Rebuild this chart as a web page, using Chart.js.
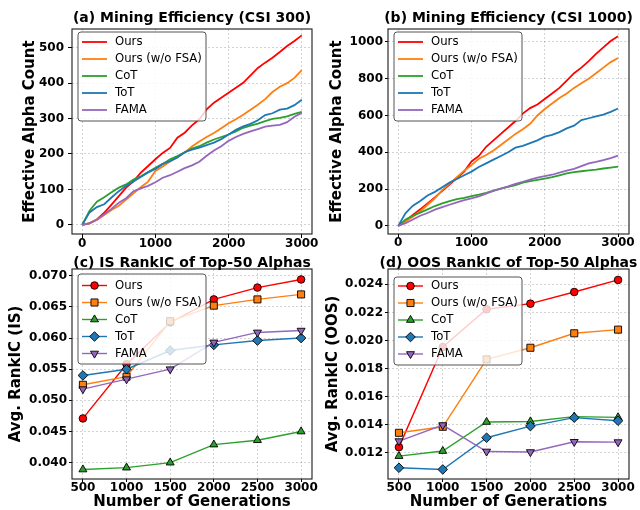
<!DOCTYPE html>
<html>
<head>
<meta charset="utf-8">
<script src="https://cdn.jsdelivr.net/npm/chart.js@4.4.1/dist/chart.umd.min.js"></script>
<style>
  body { margin: 0; background: #fff; width: 640px; height: 510px; position: relative; overflow: hidden; }
  canvas { position: absolute; }
</style>
</head>
<body>
<canvas id="chartA"></canvas>
<canvas id="chartB"></canvas>
<canvas id="chartC"></canvas>
<canvas id="chartD"></canvas>
<script>
const methods = ['Ours', 'Ours (w/o FSA)', 'CoT', 'ToT', 'FAMA'];
const colors = ['#ff0000', '#ff7f0e', '#2ca02c', '#1f77b4', '#9467bd'];
const markers = ['circle', 'rect', 'triangle', 'rectRot', 'triangle'];
const markerTurn = [0, 0, 0, 0, 180];
const markerSize = [3.8, 5, 4.6, 4.8, 4.6];

// (a) / (b): cumulative effective alphas vs generation
const generations = [0, 100, 200, 300, 400, 500, 600, 700, 800, 900, 1000, 1100, 1200, 1300, 1400, 1500,
  1600, 1700, 1800, 1900, 2000, 2100, 2200, 2300, 2400, 2500, 2600, 2700, 2800, 2900, 3000];

const csi300Ours  = [0, 4, 15, 34, 57, 81, 105, 123, 147, 166, 185, 203, 217, 246, 260, 281, 298, 326, 345, 359, 373, 387, 401, 422, 443, 458, 472, 488, 505, 519, 535];
const csi300NoFsa = [0, 5, 14, 28, 42, 54, 71, 89, 106, 122, 152, 165, 179, 191, 204, 221, 235, 248, 259, 273, 287, 298, 311, 325, 339, 355, 375, 390, 400, 415, 437];
const csi300CoT   = [0, 40, 65, 78, 92, 105, 114, 128, 137, 149, 161, 172, 185, 194, 205, 215, 222, 232, 241, 248, 255, 264, 274, 280, 286, 293, 299, 302, 306, 313, 319];
const csi300ToT   = [0, 35, 50, 58, 77, 95, 110, 122, 135, 148, 158, 172, 180, 190, 205, 212, 218, 225, 232, 242, 255, 268, 278, 285, 295, 310, 315, 325, 328, 338, 353];
const csi300Fama  = [0, 5, 15, 30, 45, 62, 75, 95, 103, 110, 120, 133, 140, 150, 160, 168, 178, 195, 210, 222, 237, 248, 257, 264, 270, 277, 280, 282, 290, 305, 316];

const csi1000Ours  = [0, 30, 60, 90, 122, 155, 190, 225, 260, 295, 350, 380, 430, 465, 500, 535, 570, 610, 640, 660, 690, 720, 750, 790, 830, 860, 895, 935, 970, 1005, 1030];
const csi1000NoFsa = [0, 25, 50, 80, 115, 150, 195, 230, 265, 300, 330, 365, 385, 410, 440, 470, 500, 525, 555, 600, 635, 665, 695, 720, 750, 775, 800, 830, 860, 890, 912];
const csi1000CoT   = [0, 35, 55, 72, 90, 108, 122, 135, 145, 152, 162, 170, 180, 192, 202, 212, 222, 235, 243, 250, 257, 265, 275, 285, 292, 297, 302, 306, 312, 317, 322];
const csi1000ToT   = [0, 70, 110, 135, 165, 185, 210, 235, 255, 275, 295, 320, 340, 360, 380, 400, 425, 435, 450, 465, 485, 495, 510, 530, 545, 575, 585, 595, 605, 620, 638];
const csi1000Fama  = [0, 15, 35, 55, 70, 88, 102, 115, 128, 140, 150, 160, 175, 190, 203, 215, 228, 240, 252, 262, 270, 278, 290, 300, 310, 325, 340, 348, 358, 368, 382];

// (c) / (d): average RankIC of top-50 alphas
const checkpoints = [500, 1000, 1500, 2000, 2500, 3000];

const isOurs  = [0.0471, 0.0558, 0.0625, 0.0662, 0.0681, 0.0694];
const isNoFsa = [0.0525, 0.0538, 0.0627, 0.0652, 0.0662, 0.0670];
const isCoT   = [0.0389, 0.0392, 0.0400, 0.0429, 0.0436, 0.0450];
const isToT   = [0.0540, 0.0550, 0.0580, 0.0589, 0.0596, 0.0600];
const isFama  = [0.0518, 0.0534, 0.0550, 0.0593, 0.0609, 0.0612];

const oosOurs  = [0.01240, 0.01953, 0.02222, 0.02262, 0.02345, 0.02431];
const oosNoFsa = [0.01342, 0.01385, 0.01865, 0.01948, 0.02051, 0.02077];
const oosCoT   = [0.01176, 0.01212, 0.01419, 0.01423, 0.01457, 0.01452];
const oosToT   = [0.01093, 0.01081, 0.01307, 0.01390, 0.01450, 0.01428];
const oosFama  = [0.01283, 0.01397, 0.01209, 0.01205, 0.01278, 0.01276];

// tick labels
const genTicks = [0, 1000, 2000, 3000];
const checkpointTicks = [500, 1000, 1500, 2000, 2500, 3000];
const csi300Ticks = [0, 100, 200, 300, 400, 500];
const csi1000Ticks = [0, 200, 400, 600, 800, 1000];
const isTicks = [0.040, 0.045, 0.050, 0.055, 0.060, 0.065, 0.070];
const oosTicks = [0.012, 0.014, 0.016, 0.018, 0.020, 0.022, 0.024];

const FONT = '"DejaVu Sans", "Liberation Sans", sans-serif';

// frame, panel title and framed legend (matplotlib look)
const decor = {
  id: 'decor',
  afterDraw(chart, args, o) {
    const { ctx, chartArea: a } = chart;
    ctx.save();
    ctx.strokeStyle = '#1a1a1a';
    ctx.lineWidth = 1.1;
    ctx.strokeRect(a.left, a.top, a.right - a.left, a.bottom - a.top);

    ctx.fillStyle = '#000';
    ctx.font = 'bold 14px ' + FONT;
    ctx.textAlign = 'center';
    ctx.textBaseline = 'middle';
    ctx.fillText(o.title, (a.left + a.right) / 2, o.titleY);

    const bx = a.left + o.legendDX, by = a.top + o.legendDY;
    ctx.beginPath();
    if (ctx.roundRect) ctx.roundRect(bx, by, 128, o.legendH, 3);
    else ctx.rect(bx, by, 128, o.legendH);
    ctx.fillStyle = 'rgba(255,255,255,0.8)';
    ctx.fill();
    ctx.strokeStyle = '#555';
    ctx.lineWidth = 1;
    ctx.stroke();

    chart.data.datasets.forEach((ds, i) => {
      const y = by + o.firstRow + i * 17;
      ctx.strokeStyle = ds.borderColor;
      ctx.lineWidth = ds.borderWidth;
      ctx.beginPath();
      ctx.moveTo(bx + 4, y);
      ctx.lineTo(bx + 29, y);
      ctx.stroke();
      if (o.markers) {
        ctx.fillStyle = ds.pointBackgroundColor;
        ctx.strokeStyle = '#000';
        ctx.lineWidth = 0.9;
        Chart.helpers.drawPoint(ctx, {
          pointStyle: ds.pointStyle, radius: ds.pointRadius,
          rotation: ds.pointRotation || 0, borderWidth: 0.9
        }, bx + 16.5, y);
      }
      ctx.fillStyle = '#000';
      ctx.font = '11.7px ' + FONT;
      ctx.textAlign = 'left';
      ctx.textBaseline = 'middle';
      ctx.fillText(ds.label, bx + 37, y);
    });
    ctx.restore();
  }
};

function makePanel(id, p) {
  const canvas = document.getElementById(id);
  canvas.width = p.w;
  canvas.height = p.h;
  canvas.style.left = p.x + 'px';
  canvas.style.top = p.y + 'px';

  const datasets = p.series.map((vals, i) => ({
    label: methods[i],
    data: p.xs.map((x, j) => ({ x, y: vals[j] })),
    borderColor: colors[i],
    backgroundColor: colors[i],
    borderWidth: p.lineWidth,
    pointStyle: markers[i],
    pointRotation: markerTurn[i],
    pointRadius: p.markers ? markerSize[i] : 0,
    pointBackgroundColor: colors[i],
    pointBorderColor: '#000',
    pointBorderWidth: 0.9,
    tension: 0,
    order: -i
  }));

  const gridOpts = {
    color: 'rgba(0,0,0,0.22)', lineWidth: 0.8,
    drawTicks: true, tickLength: p.tickLen, tickColor: '#000', tickWidth: 1,
    borderDash: [2, 2]
  };

  new Chart(canvas, {
    type: 'line',
    data: { datasets },
    plugins: [decor],
    options: {
      responsive: false,
      animation: false,
      events: [],
      layout: { padding: { left: 0, right: p.padRight, top: p.padTop, bottom: 0 } },
      plugins: {
        legend: { display: false },
        tooltip: { enabled: false },
        decor: {
          title: p.title, titleY: p.titleY, markers: p.markers,
          legendDX: p.legendDX, legendDY: p.legendDY, legendH: p.legendH, firstRow: p.firstRow
        }
      },
      scales: {
        x: {
          type: 'linear', min: p.xMin, max: p.xMax,
          afterBuildTicks: s => { s.ticks = p.xTicks.map(v => ({ value: v })); },
          afterFit: s => { s.height = p.xAxisH; },
          ticks: {
            autoSkip: false, maxRotation: 0, padding: p.xTickPad, color: '#000',
            font: { family: FONT, size: 12, weight: 'bold', lineHeight: 1 },
            callback: v => String(v)
          },
          grid: gridOpts,
          border: { display: false, dash: [2, 2] },
          title: {
            display: !!p.xTitle, text: p.xTitle || '', color: '#000',
            font: { family: FONT, size: 15, weight: 'bold', lineHeight: 1 },
            padding: { top: 0, bottom: 0 }
          }
        },
        y: {
          type: 'linear', min: p.yMin, max: p.yMax,
          afterBuildTicks: s => { s.ticks = p.yTicks.map(v => ({ value: v })); },
          afterFit: s => { s.width = p.yAxisW; },
          ticks: {
            padding: p.yTickPad, color: '#000',
            font: { family: FONT, size: 12, weight: 'bold' },
            callback: v => p.yDigits ? Number(v).toFixed(p.yDigits) : String(v)
          },
          grid: gridOpts,
          border: { display: false, dash: [2, 2] },
          title: {
            display: true, text: p.yTitle, color: '#000',
            font: { family: FONT, size: 15, weight: 'bold', lineHeight: 1 },
            padding: { top: p.yTitlePad, bottom: 0 }
          }
        }
      }
    }
  });
}

makePanel('chartA', {
  x: 0, y: 0, w: 320, h: 255, padTop: 29, padRight: 8, yAxisW: 72, xAxisH: 21,
  title: '(a) Mining Efficiency (CSI 300)', titleY: 18,
  xs: generations, series: [csi300Ours, csi300NoFsa, csi300CoT, csi300ToT, csi300Fama],
  xMin: -140, xMax: 3140, xTicks: genTicks, yMin: -26, yMax: 553, yTicks: csi300Ticks,
  yTitle: 'Effective Alpha Count', yTitlePad: 22.5, tickLen: 4, yTickPad: 4, xTickPad: 0,
  lineWidth: 1.8, markers: false, legendDX: 6, legendDY: 3, legendH: 89, firstRow: 10
});

makePanel('chartB', {
  x: 320, y: 0, w: 320, h: 255, padTop: 29, padRight: 11, yAxisW: 68, xAxisH: 21,
  title: '(b) Mining Efficiency (CSI 1000)', titleY: 18,
  xs: generations, series: [csi1000Ours, csi1000NoFsa, csi1000CoT, csi1000ToT, csi1000Fama],
  xMin: -140, xMax: 3150, xTicks: genTicks, yMin: -44, yMax: 1070, yTicks: csi1000Ticks,
  yTitle: 'Effective Alpha Count', yTitlePad: 10, tickLen: 3, yTickPad: 2, xTickPad: 0,
  lineWidth: 1.8, markers: false, legendDX: 6, legendDY: 3, legendH: 89, firstRow: 10
});

makePanel('chartC', {
  x: 0, y: 255, w: 320, h: 255, padTop: 14, padRight: 8, yAxisW: 72, xAxisH: 31,
  title: '(c) IS RankIC of Top-50 Alphas', titleY: 8,
  xs: checkpoints, series: [isOurs, isNoFsa, isCoT, isToT, isFama],
  xMin: 375, xMax: 3125, xTicks: checkpointTicks, yMin: 0.03738, yMax: 0.07108, yTicks: isTicks,
  yTitle: 'Avg. RankIC (IS)', yTitlePad: 8.5, tickLen: 3, yTickPad: 2, xTickPad: 0, yDigits: 3,
  xTitle: 'Number of Generations',
  lineWidth: 1.4, markers: true, legendDX: 6, legendDY: 5, legendH: 90, firstRow: 11.5
});

makePanel('chartD', {
  x: 320, y: 255, w: 320, h: 255, padTop: 14, padRight: 11, yAxisW: 68, xAxisH: 31,
  title: '(d) OOS RankIC of Top-50 Alphas', titleY: 8,
  xs: checkpoints, series: [oosOurs, oosNoFsa, oosCoT, oosToT, oosFama],
  xMin: 375, xMax: 3125, xTicks: checkpointTicks, yMin: 0.01013, yMax: 0.02509, yTicks: oosTicks,
  yTitle: 'Avg. RankIC (OOS)', yTitlePad: 5.8, tickLen: 3, yTickPad: 2, xTickPad: 0, yDigits: 3,
  xTitle: 'Number of Generations',
  lineWidth: 1.4, markers: true, legendDX: 6, legendDY: 8, legendH: 88, firstRow: 9
});
</script>
</body>
</html>
